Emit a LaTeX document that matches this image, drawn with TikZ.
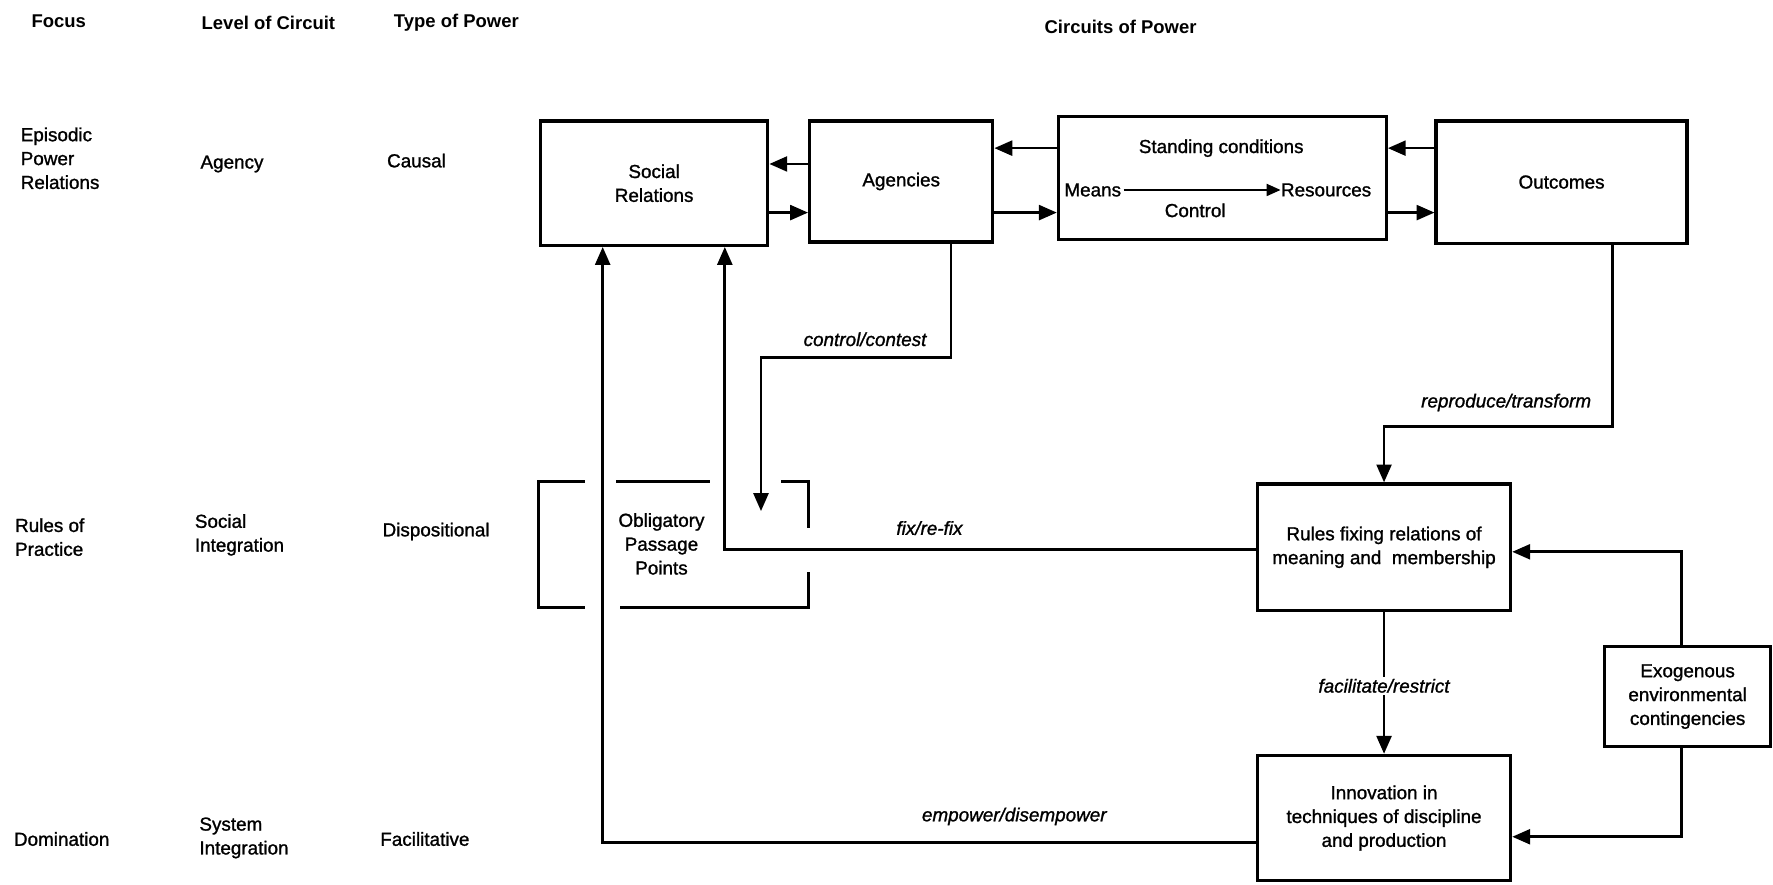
\documentclass[tikz,border=0pt]{standalone}
\usepackage{fontspec}
\setmainfont{Liberation Sans}
\newfontfamily\medfont{Liberation Sans}[FakeBold=1.2]
\newfontfamily\meditfont{Liberation Sans Italic}[FakeBold=1.2]
\usetikzlibrary{arrows.meta}
\begin{document}
\begin{tikzpicture}[x=0.02cm,y=-0.02cm,
  box/.style={draw, line width=1.6pt, inner sep=0pt, align=center, font=\medfont\fontsize{9.5}{12}\selectfont},
  txt/.style={inner sep=0pt, align=left, font=\medfont\fontsize{9.5}{12}\selectfont},
  hdr/.style={inner sep=0pt, font=\bfseries\fontsize{9.3}{11}\selectfont},
  lbl/.style={inner sep=1pt, font=\meditfont\fontsize{9.5}{12}\selectfont},
  conn/.style={line width=1.35pt},
  arr/.style={conn, -{Triangle[length=9pt,width=7.5pt]}},
  thinarr/.style={line width=1pt, -{Triangle[length=7pt,width=6pt]}},
  brk/.style={line width=1.35pt}]
\useasboundingbox (0,0) rectangle (1568,782);
\fill[white] (0,0) rectangle (1568,782);

% headers
\node[hdr] (h1) at (52,19) {Focus};
\node[hdr, anchor=west] (h2) at (178,20) {Level of Circuit};
\node[hdr, anchor=west] (h3) at (348,20) {Type of Power};
\node[hdr] (h4) at (991,24) {Circuits of Power};

% left columns
\node[txt, anchor=west] (l11) at (18,140) {Episodic\\Power\\Relations};
\node[txt, anchor=west] (l12) at (177,145) {Agency};
\node[txt, anchor=west] (l13) at (342,142) {Causal};
\node[txt, anchor=west] (l21) at (13,475) {Rules of\\Practice};
\node[txt, anchor=west] (l22) at (172,473) {Social\\Integration};
\node[txt, anchor=west] (l23) at (338,470) {Dispositional};
\node[txt, anchor=west] (l31) at (12,742) {Domination};
\node[txt, anchor=west] (l32) at (176,741) {System\\Integration};
\node[txt, anchor=west] (l33) at (336,742) {Facilitative};

% boxes
\node[box, minimum width=4.02cm, minimum height=2.2cm] (sr) at (578.5,162) {Social\\Relations};
\node[box, minimum width=3.24cm, minimum height=2.14cm] (ag) at (797,160.5) {Agencies};
\node[box, minimum width=5.8cm, minimum height=2.18cm] (sc) at (1081,157.5) {};
\node[box, minimum width=4.44cm, minimum height=2.16cm] (oc) at (1381,161) {Outcomes};
\node[box, minimum width=4.48cm, minimum height=2.24cm] (ru) at (1224,484) {Rules fixing relations of\\meaning and\ \ membership};
\node[box, minimum width=2.94cm, minimum height=1.76cm] (ex) at (1492.5,616) {Exogenous\\environmental\\contingencies};
\node[box, minimum width=4.48cm, minimum height=2.22cm] (in) at (1224,723.5) {Innovation in\\techniques of discipline\\and production};

% inside standing conditions
\node[txt] (sct) at (1080,131) {Standing conditions};
\node[txt, anchor=west] (mn) at (941,168) {Means};
\node[txt, anchor=east] (rs) at (1213,168) {Resources};
\node[txt] (ct) at (1057,186) {Control};
\draw[thinarr] (mn.east) ++(2,0) coordinate (mna) -- (rs.west);

% OPP brackets
\node[txt, align=center] (opp) at (585,481) {Obligatory\\Passage\\Points};
\draw[brk] (517,426) -- (476,426) -- (476,537) -- (517,537);
\draw[brk] (545,426) -- (628,426);
\draw[brk] (691,426) -- (715,426) -- (715,467);
\draw[brk] (715,506) -- (715,537) -- (548,537);

% y levels
\coordinate (ya) at (0,145);
\coordinate (yb) at (0,188);
\coordinate (yc) at (0,131);

% top arrows
\draw[arr] (ag.west |- ya) -- (sr.east |- ya);
\draw[arr] (sr.east |- yb) -- (ag.west |- yb);
\draw[arr] (sc.west |- yc) -- (ag.east |- yc);
\draw[arr] (ag.east |- yb) -- (sc.west |- yb);
\draw[arr] (oc.west |- yc) -- (sc.east |- yc);
\draw[arr] (sc.east |- yb) -- (oc.west |- yb);

% control/contest
\coordinate (c1) at (841,316);
\coordinate (c2) at (673,452);
\draw[arr] (ag.south -| c1) -- (c1) -- (c2 |- c1) -- (c2);
\node[lbl] (cl) at (765,300) {control/contest};

% reproduce/transform
\coordinate (r1) at (1426,377);
\draw[arr] (oc.south -| r1) -- (r1) -| (ru.north);
\node[lbl] (rl) at (1332,356) {reproduce/transform};

% fix/re-fix
\coordinate (f1) at (641,486);
\draw[arr] (ru.west |- f1) -| (sr.south -| f1);
\node[lbl] (fl) at (822,467) {fix/re-fix};

% empower/disempower
\coordinate (e1) at (533,745);
\draw[arr] (in.west |- e1) -| (sr.south -| e1);
\node[lbl] (el) at (897,722) {empower/disempower};

% facilitate/restrict
\draw[arr] (ru.south) -- node[lbl, fill=white, pos=0.52] (fr) {facilitate/restrict} (in.north);

% exogenous
\coordinate (g1) at (1487,488);
\coordinate (g2) at (1487,740);
\draw[arr] (ex.north -| g1) -- (g1) -- (ru.east |- g1);
\draw[arr] (ex.south -| g2) -- (g2) -- (in.east |- g2);
\end{tikzpicture}
\end{document}
